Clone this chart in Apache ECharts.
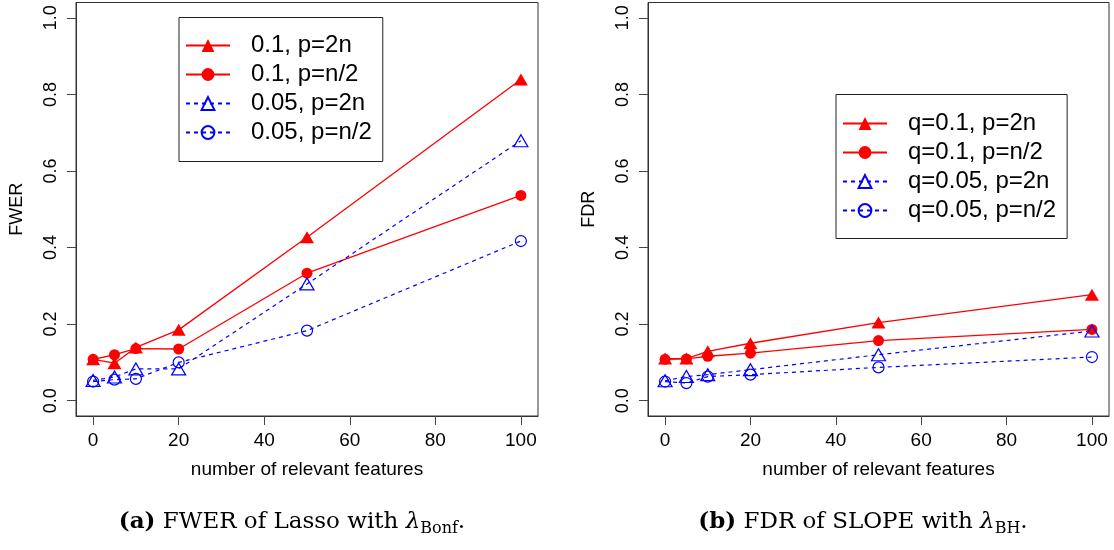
<!DOCTYPE html>
<html>
<head>
<meta charset="utf-8">
<script src="https://cdn.jsdelivr.net/npm/echarts@6/dist/echarts.min.js"></script>
<style>html,body{margin:0;padding:0;background:#fff}#c{width:1114px;height:550px}</style>
</head>
<body>
<div id="c"></div>
<script>
// ---- data ----
const xValues = [0, 5, 10, 20, 50, 100];
const xTicks = [0, 20, 40, 60, 80, 100];
const yTicks = [0, 0.2, 0.4, 0.6, 0.8, 1.0];

const fwerNames = ['0.1, p=2n', '0.1, p=n/2', '0.05, p=2n', '0.05, p=n/2'];
const fwer_01_2n  = [0.108, 0.098, 0.139, 0.185, 0.427, 0.839];
const fwer_01_n2  = [0.108, 0.120, 0.136, 0.135, 0.333, 0.536];
const fwer_005_2n = [0.053, 0.062, 0.083, 0.083, 0.305, 0.679];
const fwer_005_n2 = [0.050, 0.055, 0.057, 0.100, 0.183, 0.417];

const fdrNames = ['q=0.1, p=2n', 'q=0.1, p=n/2', 'q=0.05, p=2n', 'q=0.05, p=n/2'];
const fdr_01_2n  = [0.110, 0.110, 0.129, 0.150, 0.204, 0.277];
const fdr_01_n2  = [0.108, 0.109, 0.116, 0.124, 0.157, 0.186];
const fdr_005_2n = [0.052, 0.063, 0.068, 0.081, 0.120, 0.182];
const fdr_005_n2 = [0.050, 0.046, 0.063, 0.068, 0.087, 0.114];

// ---- styles ----
const RED = '#ff0000', BLUE = '#0000ff';
const FONT = '"Liberation Sans", Arial, Helvetica, sans-serif';
const SERIF = '"DejaVu Serif", "Liberation Serif", serif';

function pairs(ys) { return xValues.map((x, i) => [x, ys[i]]); }

function mkSeries(name, ys, idx, kind) {
  const red = kind === 0 || kind === 1;
  const tri = kind === 0 || kind === 2;
  const col = red ? RED : BLUE;
  return {
    name: name, type: 'line', xAxisIndex: idx, yAxisIndex: idx,
    data: pairs(ys),
    symbol: tri ? 'triangle' : 'circle',
    symbolSize: tri ? [14, 12] : 11,
    showAllSymbol: true,
    animation: false,
    lineStyle: { color: col, width: red ? 1.3 : 1.2, type: red ? 'solid' : [4, 4] },
    itemStyle: red ? { color: col, borderColor: col, borderWidth: 0 }
                   : { color: 'rgba(255,255,255,0)', borderColor: col, borderWidth: 1.2 },
    emphasis: { disabled: true },
    z: 3
  };
}

function mkX(idx) {
  return {
    type: 'value', gridIndex: idx, min: -4, max: 104,
    name: 'number of relevant features', nameLocation: 'middle', nameGap: 44,
    nameTextStyle: { fontFamily: FONT, fontSize: 19, color: '#000' },
    axisLine: { show: true, onZero: false, lineStyle: { color: '#333', width: 1 } },
    axisTick: { show: true, inside: false, length: 9, customValues: xTicks, lineStyle: { color: '#444', width: 1 } },
    axisLabel: { customValues: xTicks, margin: 15, fontFamily: FONT, fontSize: 19, color: '#000' },
    splitLine: { show: false }
  };
}
function mkY(idx, name) {
  return {
    type: 'value', gridIndex: idx, min: -0.04, max: 1.04,
    name: name, nameLocation: 'middle', nameGap: 50, nameRotate: 90,
    nameTextStyle: { fontFamily: FONT, fontSize: 18, color: '#000' },
    axisLine: { show: true, onZero: false, lineStyle: { color: '#333', width: 1 } },
    axisTick: { show: true, inside: false, length: 9, customValues: yTicks, lineStyle: { color: '#444', width: 1 } },
    axisLabel: { customValues: yTicks, rotate: 90, margin: 16, fontFamily: FONT, fontSize: 18, color: '#000',
                 formatter: v => Number(v).toFixed(1) },
    splitLine: { show: false }
  };
}
function mkLegend(names, left, top, pad) {
  return {
    data: names, orient: 'vertical', left: left, top: top,
    padding: pad, itemGap: 5, itemWidth: 44, itemHeight: 16,
    borderColor: '#222', borderWidth: 1, backgroundColor: '#fff',
    selectedMode: false,
    textStyle: { fontFamily: FONT, fontSize: 24, color: '#000', lineHeight: 24, padding: [0, 0, 0, 16] }
  };
}

const option = {
  animation: false,
  backgroundColor: '#fff',
  grid: [
    { left: 76, top: 2.5, width: 462, height: 413.5, show: true, borderColor: '#333', borderWidth: 1, backgroundColor: 'transparent' },
    { left: 648, top: 2.5, width: 461, height: 413.5, show: true, borderColor: '#333', borderWidth: 1, backgroundColor: 'transparent' }
  ],
  xAxis: [mkX(0), mkX(1)],
  yAxis: [mkY(0, 'FWER'), mkY(1, 'FDR')],
  legend: [
    mkLegend(fwerNames, 179, 17.5, [16, 11, 17, 6]),
    mkLegend(fdrNames, 836, 94.5, [17, 11, 16, 6])
  ],
  series: [
    mkSeries(fwerNames[0], fwer_01_2n, 0, 0),
    mkSeries(fwerNames[1], fwer_01_n2, 0, 1),
    mkSeries(fwerNames[2], fwer_005_2n, 0, 2),
    mkSeries(fwerNames[3], fwer_005_n2, 0, 3),
    mkSeries(fdrNames[0], fdr_01_2n, 1, 0),
    mkSeries(fdrNames[1], fdr_01_n2, 1, 1),
    mkSeries(fdrNames[2], fdr_005_2n, 1, 2),
    mkSeries(fdrNames[3], fdr_005_n2, 1, 3)
  ],
  graphic: [
    { type: 'text', x: 292, y: 522, silent: true,
      style: { text: '{b|(a)} FWER of Lasso with {l|λ}{s|Bonf}.', fontFamily: SERIF, fontSize: 23, fill: '#000',
               align: 'center', verticalAlign: 'middle', lineHeight: 29,
               rich: { b: { fontWeight: 'bold', fontFamily: SERIF, fontSize: 23, lineHeight: 29 },
                       l: { fontStyle: 'italic', fontFamily: SERIF, fontSize: 23, lineHeight: 29 },
                       s: { fontFamily: SERIF, fontSize: 16, lineHeight: 16, verticalAlign: 'bottom' } } } },
    { type: 'text', x: 863, y: 522, silent: true,
      style: { text: '{b|(b)} FDR of SLOPE with {l|λ}{s|BH}.', fontFamily: SERIF, fontSize: 23, fill: '#000',
               align: 'center', verticalAlign: 'middle', lineHeight: 29,
               rich: { b: { fontWeight: 'bold', fontFamily: SERIF, fontSize: 23, lineHeight: 29 },
                       l: { fontStyle: 'italic', fontFamily: SERIF, fontSize: 23, lineHeight: 29 },
                       s: { fontFamily: SERIF, fontSize: 16, lineHeight: 16, verticalAlign: 'bottom' } } } }
  ]
};

const chart = echarts.init(document.getElementById('c'), null, { renderer: 'canvas' });
chart.setOption(option);
</script>
</body>
</html>
